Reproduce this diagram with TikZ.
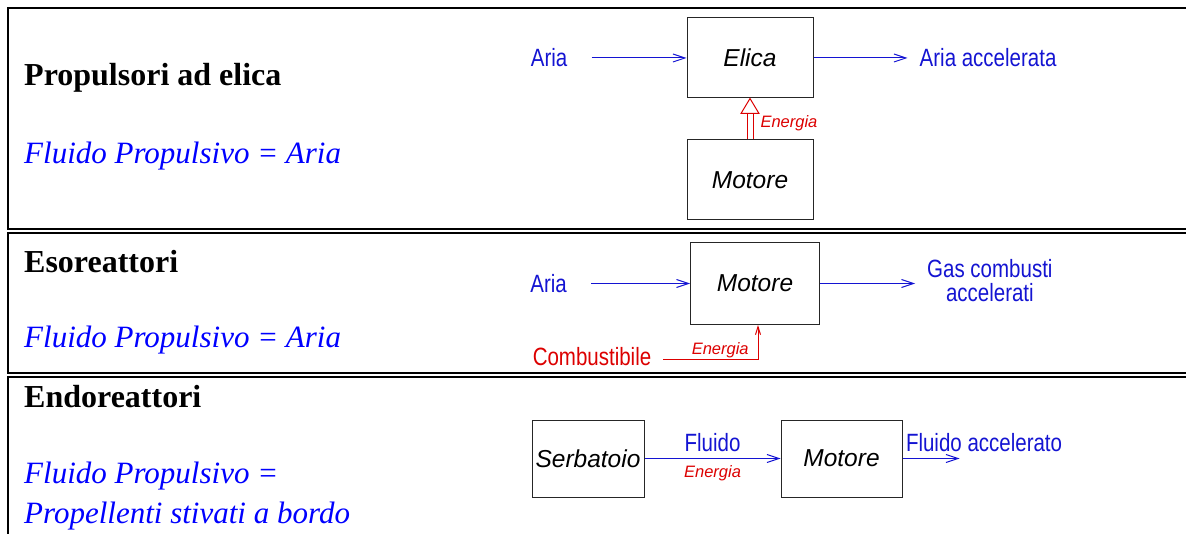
\documentclass[tikz,border=0pt]{standalone}
\usepackage{fontspec}
\setmainfont{Liberation Serif}
\newfontfamily\narrowsf[FakeStretch=0.82]{Liberation Sans}
\newfontfamily\plainsf{Liberation Sans}
\usetikzlibrary{positioning,arrows.meta}

\definecolor{fluidblue}{RGB}{0,0,255}
\definecolor{labelblue}{RGB}{20,20,210}
\definecolor{energyred}{RGB}{220,0,0}

\tikzset{
  panel/.style={line width=2pt},
  block/.style={draw=black!85, line width=1pt, inner sep=0pt,
    minimum width=126pt, minimum height=80pt,
    font=\plainsf\itshape\fontsize{24.5}{28}\selectfont},
  lbl/.style={font=\narrowsf\fontsize{25}{24}\selectfont, text=labelblue,
    inner xsep=12pt, inner ysep=0pt},
  energy/.style={font=\plainsf\itshape\fontsize{16.5}{16}\selectfont,
    text=energyred, inner sep=2pt},
  flow/.style={labelblue, line width=1pt, -{Straight Barb[length=12pt,width=8pt]}},
  title/.style={font=\bfseries\fontsize{32}{32}\selectfont, anchor=base west, inner sep=0pt},
  fluid/.style={font=\itshape\fontsize{31}{31}\selectfont, text=fluidblue,
    anchor=base west, inner sep=0pt},
}

\begin{document}
\begin{tikzpicture}[x=1pt, y=-1pt]
\clip (0,0) rectangle (1186,534);

% three framed panels, open to the right
\draw[panel] (8,8.5) rectangle (1200,229);
\draw[panel] (8,233) rectangle (1200,373.5);
\draw[panel] (8,377.5) rectangle (1200,560);

% propeller
\node[title] (prop) at (24,86) {Propulsori ad elica};
\node[fluid] (fluid1) at (24,164) {Fluido Propulsivo = Aria};

\node[block] (elica) at (750,58) {Elica};
\node[block, below=41pt of elica] (motore1) {Motore};
\node[lbl, left=107pt of elica] (aria1) {Aria};
\node[lbl, right=94pt of elica] (acc1) {Aria accelerata};

\draw[flow, shorten <=12pt] (aria1) -- (elica);
\draw[flow] (elica) -- (acc1);
% power shaft: double line with an open head
\draw[energyred, line width=1pt, double, double distance=5pt, shorten >=15pt]
  (motore1) -- (elica) node[energy, pos=0.4, right=8pt] (en1) {Energia};
\draw[energyred, line width=1pt, fill=white]
  (elica.south) -- ++(-9,15) -- ++(18,0) -- cycle;

% jet engines
\node[title] (eso) at (24,273) {Esoreattori};
\node[fluid] (fluid2) at (24,348) {Fluido Propulsivo = Aria};

\node[block, minimum width=129pt, minimum height=82pt] (motore2) at (755,283.5) {Motore};
\node[lbl, left=111pt of motore2] (aria2) {Aria};
\node[lbl, right=95pt of motore2, yshift=3pt, align=center] (gas) {Gas combusti\\accelerati};
\node[lbl, text=energyred] (comb) at (592,357) {Combustibile};

\draw[flow, shorten <=12pt] (aria2) -- (motore2);
\draw[flow] (motore2.east) -- (gas.west |- motore2.east);
\draw[energyred, line width=1pt, -{Straight Barb[length=8pt,width=5pt]}]
  ([yshift=-3pt]comb.east) -| ([xshift=3pt]motore2.south)
  node[energy, pos=0.3, above] (en2) {Energia};

% rockets
\node[title] (endo) at (24,408) {Endoreattori};
\node[fluid] (fluid3) at (24,483) {Fluido Propulsivo =};
\node[fluid] (prop3) at (24,523) {Propellenti stivati a bordo};

\node[block, minimum width=112pt, minimum height=77pt] (serb) at (588,458.5) {Serbatoio};
\node[block, minimum width=121pt, minimum height=77pt, right=136pt of serb] (motore3) {Motore};
\coordinate[right=57pt of motore3] (out3);

\draw[flow] (serb) -- (motore3)
  node[lbl, midway, above, inner ysep=6pt] (fl3) {Fluido}
  node[energy, midway, below=5pt] (en3) {Energia};
\draw[flow] (motore3) -- (out3)
  node[lbl, pos=0, above right, inner xsep=3pt, inner ysep=6pt] (acc3) {Fluido accelerato};
\end{tikzpicture}
\end{document}
